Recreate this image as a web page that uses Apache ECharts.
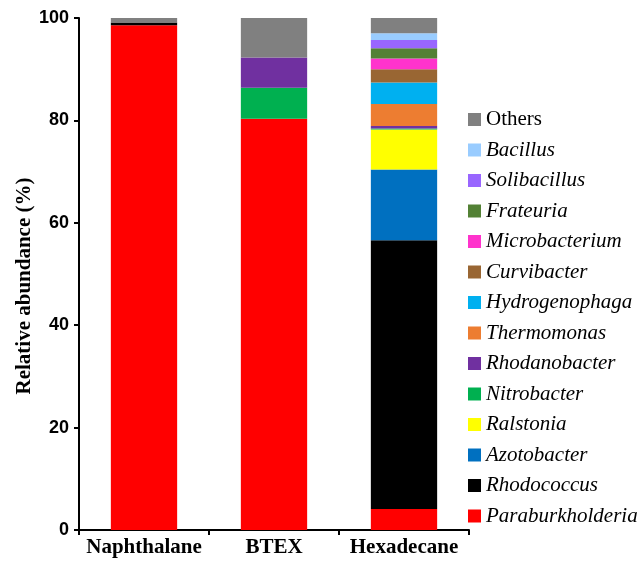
<!DOCTYPE html>
<html>
<head>
<meta charset="utf-8">
<script src="https://cdn.jsdelivr.net/npm/echarts@6/dist/echarts.min.js"></script>
<style>html,body{margin:0;padding:0;background:#fff}#c{width:644px;height:566px}</style>
</head>
<body>
<div id="c"></div>
<script>
const categories = ['Naphthalane', 'BTEX', 'Hexadecane'];
const yTicks = [0, 20, 40, 60, 80, 100];
// stacking order bottom -> top
const seriesNames = ['Paraburkholderia', 'Rhodococcus', 'Azotobacter', 'Ralstonia', 'Nitrobacter', 'Rhodanobacter', 'Thermomonas', 'Hydrogenophaga', 'Curvibacter', 'Microbacterium', 'Frateuria', 'Solibacillus', 'Bacillus', 'Others'];
const Paraburkholderia = [98.6, 80.3, 4.1];
const Rhodococcus = [0.5, 0, 52.5];
const Azotobacter = [0, 0, 13.8];
const Ralstonia = [0, 0, 7.8];
const Nitrobacter = [0, 6.1, 0.2];
const Rhodanobacter = [0, 5.9, 0.5];
const Thermomonas = [0, 0, 4.3];
const Hydrogenophaga = [0, 0, 4.2];
const Curvibacter = [0, 0, 2.6];
const Microbacterium = [0, 0, 2.1];
const Frateuria = [0, 0, 2.0];
const Solibacillus = [0, 0, 1.6];
const Bacillus = [0, 0, 1.3];
const Others = [0.9, 7.7, 3.0];
const seriesValues = [Paraburkholderia, Rhodococcus, Azotobacter, Ralstonia, Nitrobacter, Rhodanobacter, Thermomonas, Hydrogenophaga, Curvibacter, Microbacterium, Frateuria, Solibacillus, Bacillus, Others];
const colors = ['#FF0000', '#000000', '#0070C0', '#FFFF00', '#00B050', '#7030A0', '#ED7D31', '#00B0F0', '#996633', '#FF33CC', '#538135', '#9966FF', '#99CCFF', '#808080'];

const chart = echarts.init(document.getElementById('c'));
const legendData = seriesNames.slice().reverse().map(n => ({
  name: n,
  textStyle: { fontStyle: n === 'Others' ? 'normal' : 'italic' }
}));
chart.setOption({
  animation: false,
  grid: { left: 79, right: 175, top: 18, bottom: 36 },
  legend: {
    orient: 'vertical',
    left: 463,
    top: 104,
    itemWidth: 13,
    itemHeight: 13,
    itemGap: 9.5,
    icon: 'rect',
    data: legendData,
    textStyle: { fontFamily: 'Liberation Serif', fontSize: 21, color: '#000', lineHeight: 21 }
  },
  xAxis: {
    type: 'category',
    data: categories,
    axisLine: { lineStyle: { color: '#000', width: 2 } },
    axisTick: { show: true, length: 5, lineStyle: { color: '#000', width: 2 } },
    axisLabel: { interval: 0, hideOverlap: false, color: '#000', fontFamily: 'Liberation Serif', fontWeight: 'bold', fontSize: 21, margin: 7 }
  },
  yAxis: {
    type: 'value',
    min: yTicks[0],
    max: yTicks[yTicks.length - 1],
    interval: 20,
    name: 'Relative abundance (%)',
    nameLocation: 'middle',
    nameGap: 44,
    nameMoveOverlap: false,
    nameTextStyle: { color: '#000', fontFamily: 'Liberation Serif', fontWeight: 'bold', fontSize: 21, padding: [0, 24, 0, 0] },
    splitLine: { show: false },
    axisLine: { show: true, lineStyle: { color: '#000', width: 2 } },
    axisTick: { show: true, length: 5, lineStyle: { color: '#000', width: 2 } },
    axisLabel: { color: '#000', fontFamily: 'Liberation Sans', fontWeight: 'bold', fontSize: 18, margin: 10 }
  },
  series: seriesNames.map((n, i) => ({
    name: n,
    type: 'bar',
    stack: 'total',
    barWidth: '51%',
    data: seriesValues[i],
    itemStyle: { color: colors[i] }
  }))
});
</script>
</body>
</html>
